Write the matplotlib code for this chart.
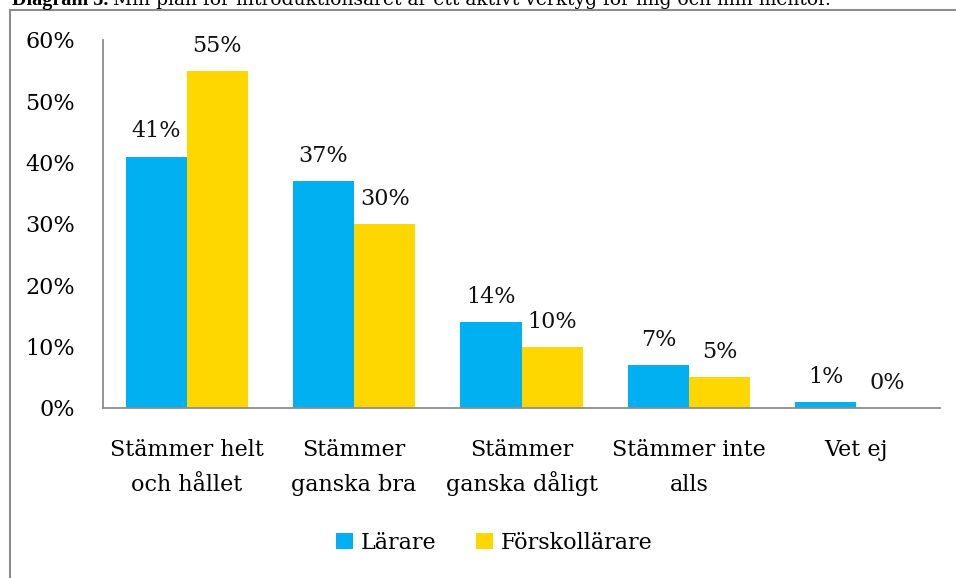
import numpy as np
import matplotlib.pyplot as plt
from matplotlib.patches import Rectangle

# data
categories = ['Stämmer helt\noch hållet', 'Stämmer\nganska bra', 'Stämmer\nganska dåligt',
              'Stämmer inte\nalls', 'Vet ej']
larare = [41, 37, 14, 7, 1]
forskollarare = [55, 30, 10, 5, 0]
series_names = ['Lärare', 'Förskollärare']

plt.rcParams['font.family'] = ['DejaVu Serif']

fig = plt.figure(figsize=(9.56, 5.78), dpi=100)
ax = fig.add_axes([103/956, 1-408/578, (940-103)/956, (408-40)/578])

x = np.arange(len(categories))
w = 0.365
b1 = ax.bar(x - w/2, larare, w, color='#00b0f0', label=series_names[0])
b2 = ax.bar(x + w/2, forskollarare, w, color='#ffd700', label=series_names[1])

for bars, vals in ((b1, larare), (b2, forskollarare)):
    for r, v in zip(bars, vals):
        ax.text(r.get_x() + r.get_width()/2, v + 2.3, f'{v}%', ha='center', va='bottom',
                fontsize=16, color='#111111')

ax.set_ylim(0, 60)
ax.set_xlim(-0.5, 4.5)
ax.set_yticks(range(0, 61, 10))
ax.set_yticklabels([f'{v}%' for v in range(0, 61, 10)], fontsize=16)

# two-line category labels: first line as major, second as minor tick labels
line1 = [c.split('\n')[0] for c in categories]
line2 = [c.split('\n')[1] if '\n' in c else '' for c in categories]
ax.xaxis.remove_overlapping_locs = False
ax.set_xticks(x, labels=line1, fontsize=16)
ax.set_xticks(x, labels=line2, minor=True, fontsize=16)
for lbl in ax.get_xticklabels(minor=True):
    lbl.set_verticalalignment('baseline')
ax.tick_params(axis='x', which='major', length=0, pad=22)
ax.tick_params(axis='x', which='minor', length=0, pad=60)
ax.tick_params(axis='y', length=0, pad=20)
for s in ['top', 'right']:
    ax.spines[s].set_visible(False)
for s in ['left', 'bottom']:
    ax.spines[s].set_color('#8c8c8c')
    ax.spines[s].set_linewidth(1.3)

fig.legend(handles=[b1, b2], loc='center', bbox_to_anchor=(494/956, 1-543/578), ncol=2,
           frameon=False, fontsize=16, handlelength=0.75, handleheight=0.75,
           handletextpad=0.35, columnspacing=1.8)

# chart frame (extends beyond the image)
fig.add_artist(Rectangle((10/956, -0.1), 1.2, 1 - 10/578 + 0.1, transform=fig.transFigure,
                         fill=False, edgecolor='#8c8c8c', lw=1.5, clip_on=False))

# caption at the top, cut off by the image edge as in the original
t1 = fig.text(12/956, 1 - 5/578, 'Diagram 5.', fontsize=14.5, fontweight='bold',
              va='baseline', ha='left', family='Liberation Serif')
fig.canvas.draw()
bb = t1.get_window_extent()
t2 = fig.text((bb.x1 + 5)/956, 1 - 5/578,
              'Min plan för introduktionsåret är ett aktivt verktyg för mig och min mentor.',
              fontsize=14, va='baseline', ha='left')
fig.canvas.draw()
bb2 = t2.get_window_extent()
t2.set_fontsize(14 * (840 - bb.x1 - 5) / bb2.width)

fig.savefig('out.png', dpi=100)
